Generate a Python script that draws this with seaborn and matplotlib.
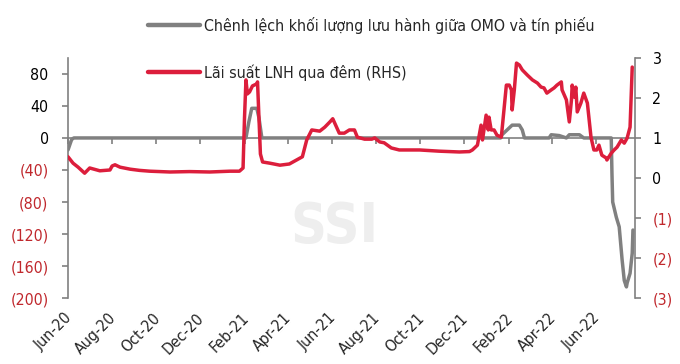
import pandas as pd
import matplotlib.pyplot as plt
import matplotlib.dates as mdates
import matplotlib.transforms as mtransforms
from matplotlib import font_manager
from matplotlib.font_manager import FontProperties
from matplotlib.textpath import TextPath
from matplotlib.ticker import FuncFormatter, FixedLocator
import seaborn as sns

# Chênh lệch khối lượng lưu hành giữa OMO và tín phiếu (trục trái)
omo_dates = [
    "2020-06-01", "2020-06-06", "2020-06-09", "2021-02-02", "2021-02-06",
    "2021-02-10", "2021-02-17", "2021-02-20", "2021-02-24", "2022-01-20",
    "2022-01-22", "2022-01-29", "2022-02-05", "2022-02-15", "2022-02-19",
    "2022-02-22", "2022-03-28", "2022-03-31", "2022-04-11", "2022-04-21",
    "2022-04-25", "2022-05-09", "2022-05-15", "2022-06-22", "2022-06-23",
    "2022-06-24", "2022-06-29", "2022-07-03", "2022-07-07", "2022-07-10",
    "2022-07-13", "2022-07-14", "2022-07-18", "2022-07-21", "2022-07-22",
]
omo_values = [
    -15, -2, 0, 0, 20,
    37, 37, 25, 0, 0,
    4, 10, 16, 16, 10,
    0, 0, 4, 3, 0,
    4, 4, 0, 0, -45,
    -80, -99, -111, -152, -178,
    -186, -181, -169, -144, -115,
]

# Lãi suất LNH qua đêm (RHS)
rate_dates = [
    "2020-06-01", "2020-06-08", "2020-06-15", "2020-06-24", "2020-07-01",
    "2020-07-15", "2020-07-29", "2020-08-01", "2020-08-05", "2020-08-12",
    "2020-08-26", "2020-09-08", "2020-09-22", "2020-10-20", "2020-11-16",
    "2020-12-14", "2021-01-11", "2021-01-24", "2021-01-29", "2021-01-31",
    "2021-02-02", "2021-02-04", "2021-02-07", "2021-02-11", "2021-02-17",
    "2021-02-18", "2021-02-20", "2021-02-22", "2021-02-25", "2021-03-07",
    "2021-03-21", "2021-04-03", "2021-04-13", "2021-04-21", "2021-04-27",
    "2021-05-04", "2021-05-15", "2021-05-22", "2021-05-29", "2021-06-02",
    "2021-06-06", "2021-06-11", "2021-06-18", "2021-06-25", "2021-07-02",
    "2021-07-06", "2021-07-16", "2021-07-26", "2021-07-30", "2021-08-06",
    "2021-08-12", "2021-08-22", "2021-09-02", "2021-09-30", "2021-10-27",
    "2021-11-24", "2021-12-08", "2021-12-12", "2021-12-19", "2021-12-24",
    "2021-12-26", "2021-12-31", "2022-01-03", "2022-01-04", "2022-01-07",
    "2022-01-11", "2022-01-15", "2022-01-21", "2022-01-22", "2022-01-28",
    "2022-02-01", "2022-02-04", "2022-02-05", "2022-02-08", "2022-02-11",
    "2022-02-15", "2022-02-19", "2022-02-26", "2022-03-05", "2022-03-12",
    "2022-03-17", "2022-03-21", "2022-03-25", "2022-03-31", "2022-04-04",
    "2022-04-08", "2022-04-14", "2022-04-15", "2022-04-21", "2022-04-25",
    "2022-04-28", "2022-04-29", "2022-05-02", "2022-05-04", "2022-05-06",
    "2022-05-11", "2022-05-15", "2022-05-20", "2022-05-25", "2022-05-29",
    "2022-06-02", "2022-06-05", "2022-06-09", "2022-06-15", "2022-06-16",
    "2022-06-22", "2022-06-26", "2022-06-30", "2022-07-06", "2022-07-10",
    "2022-07-14", "2022-07-18", "2022-07-21",
]
rate_values = [
    0.53, 0.37, 0.27, 0.12, 0.25,
    0.18, 0.20, 0.30, 0.33, 0.27,
    0.22, 0.19, 0.17, 0.15, 0.16,
    0.15, 0.17, 0.17, 0.25, 1.50,
    2.45, 2.10, 2.15, 2.30, 2.35,
    2.40, 1.50, 0.60, 0.40, 0.37,
    0.32, 0.35, 0.45, 0.53, 0.95,
    1.20, 1.17, 1.27, 1.40, 1.48,
    1.32, 1.12, 1.12, 1.20, 1.20,
    1.02, 0.97, 0.97, 1.00, 0.90,
    0.88, 0.75, 0.70, 0.70, 0.67,
    0.65, 0.66, 0.70, 0.82, 1.32,
    0.95, 1.57, 1.20, 1.52, 1.20,
    1.20, 1.07, 1.02, 1.20, 2.32,
    2.32, 2.20, 1.70, 2.20, 2.87,
    2.82, 2.70, 2.57, 2.45, 2.37,
    2.27, 2.25, 2.12, 2.20, 2.25,
    2.32, 2.40, 2.20, 1.95, 1.40,
    1.95, 2.32, 2.02, 2.27, 1.65,
    1.87, 2.12, 1.87, 1.02, 0.70,
    0.70, 0.82, 0.57, 0.50, 0.45,
    0.62, 0.70, 0.77, 0.95, 0.87,
    1.00, 1.27, 2.77,
]

left_ticks = [-200, -160, -120, -80, -40, 0, 40, 80]
right_ticks = [-3, -2, -1, 0, 1, 2, 3]
month_ticks = [
    "2020-06-01", "2020-08-01", "2020-10-01", "2020-12-01", "2021-02-01",
    "2021-04-01", "2021-06-01", "2021-08-01", "2021-10-01", "2021-12-01",
    "2022-02-01", "2022-04-01", "2022-06-01",
]
omo_label = "Chênh lệch khối lượng lưu hành giữa OMO và tín phiếu"
rate_label = "Lãi suất LNH qua đêm (RHS)"

GRAY = "#808080"
RED = "#DC1E3C"
NEG_RED = "#C0282D"

# the original uses a narrow Arial; take a condensed face if one is installed
font_name, font_stretch = "Liberation Sans", "normal"
for f in font_manager.fontManager.ttflist:
    if f.stretch in ("condensed", "semi-condensed") and f.name in (
            "Liberation Sans Narrow", "Roboto Condensed", "Roboto", "Open Sans",
            "DejaVu Sans", "Noto Sans", "Liberation Sans"):
        font_name, font_stretch = f.name, f.stretch
        break

sns.set_theme(style="white")
plt.rcParams["font.family"] = [font_name, "DejaVu Sans"]
plt.rcParams["font.stretch"] = font_stretch

# size from the legend text width in the original (~367 px), a little larger
probe = TextPath((0, 0), omo_label, size=10,
                 prop=FontProperties(family=font_name, stretch=font_stretch))
fs = 1.06 * 10 * (367 * 72 / 100) / probe.get_extents().width
fs_px = fs * 100 / 72

omo = pd.DataFrame({"date": pd.to_datetime(omo_dates), "value": omo_values})
rate = pd.DataFrame({"date": pd.to_datetime(rate_dates), "value": rate_values})
ticks = pd.to_datetime(month_ticks)


def paren(v, pos=None):
    return f"({abs(v):.0f})" if v < 0 else f"{v:.0f}"


fig, ax = plt.subplots(figsize=(6.8, 3.64), dpi=100)
fig.subplots_adjust(left=0.1, right=0.934, top=0.841, bottom=0.181)
ax2 = ax.twinx()

sns.lineplot(data=omo, x="date", y="value", ax=ax, color=GRAY, lw=2.5,
             label=omo_label, legend=False)
sns.lineplot(data=rate, x="date", y="value", ax=ax2, color=RED, lw=2.5,
             label=rate_label, legend=False)

ax.set_ylim(-200, 100)
ax2.set_ylim(-3, 3)
ax.set_xlim(pd.Timestamp("2020-06-01"), pd.Timestamp("2022-07-25"))

for a in (ax, ax2):
    a.set_xlabel("")
    a.set_ylabel("")
    a.spines["top"].set_visible(False)
ax2.spines["bottom"].set_visible(False)
ax2.spines["left"].set_visible(False)
ax.spines["right"].set_visible(False)

for sp in (ax.spines["left"], ax.spines["bottom"], ax2.spines["right"]):
    sp.set_color(GRAY)
    sp.set_linewidth(1.2)
# horizontal axis crosses at zero, like the Excel original
ax.spines["bottom"].set_position(("data", 0))

ax.yaxis.set_major_locator(FixedLocator(left_ticks))
ax.yaxis.set_major_formatter(FuncFormatter(paren))
ax2.yaxis.set_major_locator(FixedLocator(right_ticks))
ax2.yaxis.set_major_formatter(FuncFormatter(paren))

ax.tick_params(axis="y", left=True, direction="out", length=4, width=1.2,
               color=GRAY, pad=10, labelsize=fs)
ax2.tick_params(axis="y", right=True, direction="out", length=4, width=1.2,
                color=GRAY, pad=8.5, labelsize=fs)

ax.set_xticks(ticks)
ax.tick_params(axis="x", bottom=True, direction="out", length=4, width=1.2,
               color=GRAY, labelbottom=False)

# month labels sit below the plot area
months = ax.secondary_xaxis("bottom")
months.set_xticks(ticks)
months.xaxis.set_major_formatter(mdates.DateFormatter("%b-%y"))
months.tick_params(axis="x", length=0, pad=9, labelsize=fs)
months.spines["bottom"].set_visible(False)
shift = mtransforms.ScaledTranslation(-4 / 100, 0, fig.dpi_scale_trans)
for lbl in months.get_xticklabels():
    lbl.set_rotation(45)
    lbl.set_ha("right")
    lbl.set_rotation_mode("anchor")
    lbl.set_transform(lbl.get_transform() + shift)

fig.canvas.draw()
for lbl in ax.get_yticklabels() + ax2.get_yticklabels():
    lbl.set_color(NEG_RED if "(" in lbl.get_text() else "black")

ax.text(0.469, 0.296, "SSI", transform=ax.transAxes, ha="center", va="center",
        fontsize=40, fontweight="bold", color="#EEEEEE", zorder=0)

handles = ax.get_lines()[:1] + ax2.get_lines()[:1]
leg = fig.legend(handles=handles, labels=[omo_label, rate_label],
                 loc="upper left", bbox_to_anchor=(148 / 680, 1 - 17 / 364),
                 frameon=False, fontsize=fs, borderpad=0, borderaxespad=0,
                 handlelength=52 / fs_px, handletextpad=4 / fs_px,
                 labelspacing=48 / fs_px - 1.13)
for h in leg.legend_handles:
    h.set_linewidth(3.2)

fig.savefig("out.png", dpi=100)
